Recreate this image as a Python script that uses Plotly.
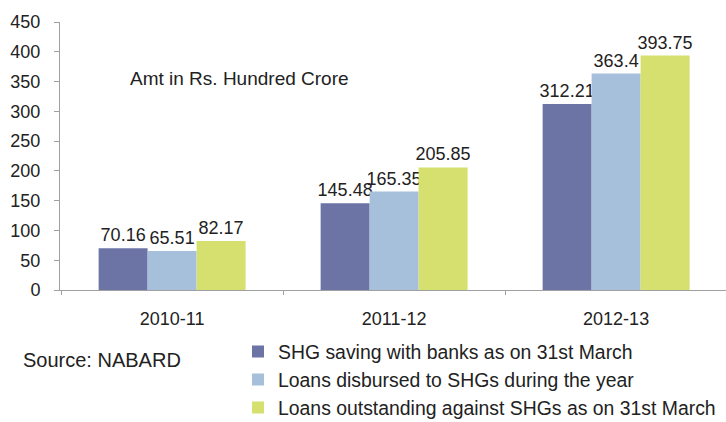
import plotly.graph_objects as go

categories = ["2010-11", "2011-12", "2012-13"]
series_names = [
    "SHG saving with banks as on 31st March",
    "Loans disbursed to SHGs during the year",
    "Loans outstanding against SHGs as on 31st March",
]
savings = [70.16, 145.48, 312.21]
disbursed = [65.51, 165.35, 363.4]
outstanding = [82.17, 205.85, 393.75]
labels_savings = ["70.16", "145.48", "312.21"]
labels_disbursed = ["65.51", "165.35", "363.4"]
labels_outstanding = ["82.17", "205.85", "393.75"]
y_ticks = [0, 50, 100, 150, 200, 250, 300, 350, 400, 450]

colors = ["#6C74A6", "#A6BFDA", "#D5E06E"]
font_family = "Liberation Sans, Arial, sans-serif"
legend_ids = ["legend", "legend2", "legend3"]
legend_y = [(290 - 352) / 268, (290 - 380) / 268, (290 - 408) / 268]

fig = go.Figure()
for name, vals, labs, col, lg in zip(series_names,
                                     [savings, disbursed, outstanding],
                                     [labels_savings, labels_disbursed, labels_outstanding],
                                     colors, legend_ids):
    fig.add_trace(go.Bar(
        x=categories, y=vals, name=name, legend=lg, showlegend=True,
        marker=dict(color=col, line=dict(width=0)),
        text=labs, textposition="outside", cliponaxis=False,
        constraintext="none",
        textfont=dict(size=18, color="#222222", family=font_family),
    ))

legend_common = dict(
    x=(238 - 60) / 666, xanchor="left", yanchor="middle",
    font=dict(size=19.4, color="#222222"), itemwidth=30,
    bgcolor="rgba(0,0,0,0)", visible=True,
)

fig.update_layout(
    width=726, height=422, showlegend=True,
    margin=dict(l=60, r=0, t=22, b=132, autoexpand=False),
    paper_bgcolor="white", plot_bgcolor="white",
    barmode="group", bargap=0.338, bargroupgap=0,
    font=dict(family=font_family, size=18, color="#222222"),
    xaxis=dict(
        type="category",
        range=[-0.505, 2.495], showline=True, linecolor="#A0A0A0", linewidth=1,
        ticks="outside", tickson="boundaries", ticklen=4, tickcolor="#A0A0A0",
        showgrid=False, tickfont=dict(size=18, color="#222222"),
        ticklabelstandoff=12,
    ),
    yaxis=dict(
        range=[0, 450], tickvals=y_ticks, showline=True, linecolor="#A0A0A0",
        linewidth=1, ticks="outside", ticklen=5, tickcolor="#A0A0A0",
        showgrid=False, zeroline=False, tickfont=dict(size=18, color="#222222"),
        ticklabelstandoff=10,
    ),
    legend=dict(y=legend_y[0], **legend_common),
    legend2=dict(y=legend_y[1], **legend_common),
    legend3=dict(y=legend_y[2], **legend_common),
    annotations=[
        dict(text="Amt in Rs. Hundred Crore", xref="paper", yref="paper",
             x=(128 - 60) / 666, y=(290 - 78) / 268, xanchor="left", yanchor="middle",
             showarrow=False, font=dict(size=19, color="#222222")),
        dict(text="Source: NABARD", xref="paper", yref="paper",
             x=(21 - 60) / 666, y=(290 - 360) / 268, xanchor="left", yanchor="middle",
             showarrow=False, font=dict(size=20, color="#222222")),
    ],
)

fig.write_html(
    "out.html",
    config={"displayModeBar": False},
    post_script="document.body.style.margin='0px';document.body.style.overflow='hidden';",
)
